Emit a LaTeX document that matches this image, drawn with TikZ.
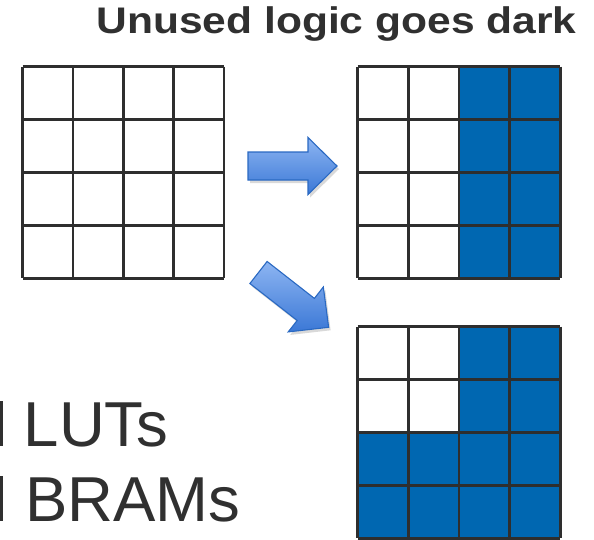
\documentclass[tikz,border=0pt]{standalone}
\usepackage{fontspec}
\setmainfont{Liberation Sans}
\usetikzlibrary{shadows}
\definecolor{txt}{HTML}{303030}
\definecolor{gridline}{HTML}{2E2E2E}
\definecolor{cellblue}{HTML}{0067B1}
\definecolor{arrowtop}{HTML}{8DB5F2}
\definecolor{arrowbot}{HTML}{3B78D6}
\definecolor{arrowedge}{HTML}{2A69C2}
\tikzset{
  cellfill/.style={fill=cellblue},
  gridstroke/.style={draw=gridline, line width=2.8pt},
  bigarrow/.style={draw=arrowedge, line width=1.1pt, top color=arrowtop, bottom color=arrowbot,
    drop shadow={shadow xshift=2pt, shadow yshift=-3pt, opacity=0.25, fill=black!60}},
  titletext/.style={font=\bfseries\fontsize{37}{40}\selectfont, text=txt, inner sep=0pt},
  bigtext/.style={font=\fontsize{63.5}{70}\selectfont, text=txt, inner sep=0pt, anchor=base west}
}
\newcommand{\arrowshape}{(0,-14) -- (60,-14) -- (60,-28.5) -- (89,0) -- (60,28.5) -- (60,14) -- (0,14) -- cycle}
\begin{document}
\begin{tikzpicture}[x=1pt,y=-1pt]
\useasboundingbox (0,0) rectangle (594,539);
% title
\node[titletext, anchor=base] (title) at (336.5,33.5) {\scalebox{1.15}[1]{Unused logic goes dark}};
% left grid
\begin{scope}[shift={(22.7,66.7)}]
  \foreach \i in {0,...,4} {
    \draw[gridstroke] (\i*50.3,0) -- (\i*50.3,211.6);
    \draw[gridstroke] (0,\i*52.9) -- (201.2,\i*52.9);
  }
\end{scope}
% top right grid
\begin{scope}[shift={(357.7,66.7)}]
  \foreach \c in {2,3} \foreach \r in {0,...,3}
    \fill[cellfill] (\c*50.6,\r*52.9) rectangle ++(50.6,52.9);
  \foreach \i in {0,...,4} {
    \draw[gridstroke] (\i*50.6,0) -- (\i*50.6,211.6);
    \draw[gridstroke] (0,\i*52.9) -- (202.4,\i*52.9);
  }
\end{scope}
% bottom right grid
\begin{scope}[shift={(357.7,326.7)}]
  \foreach \c in {2,3} \foreach \r in {0,1}
    \fill[cellfill] (\c*50.6,\r*52.9) rectangle ++(50.6,52.9);
  \foreach \c in {0,...,3} \foreach \r in {2,3}
    \fill[cellfill] (\c*50.6,\r*52.9) rectangle ++(50.6,52.9);
  \foreach \i in {0,...,4} {
    \draw[gridstroke] (\i*50.6,0) -- (\i*50.6,211.6);
    \draw[gridstroke] (0,\i*52.9) -- (202.4,\i*52.9);
  }
\end{scope}
% arrows
\begin{scope}[shift={(248,166)}]
  \path[bigarrow] \arrowshape;
\end{scope}
\begin{scope}[shift={(258.5,272.5)}, rotate=-38]
  \path[bigarrow] \arrowshape;
\end{scope}
% texts
\node[bigtext] (luts) at (23.5,446) {LUTs};
\node[bigtext] (brams) at (25,521) {BRAMs};
\fill[txt] (0,401) rectangle (2.7,446);
\fill[txt] (0,476) rectangle (2.7,521);
\end{tikzpicture}
\end{document}
